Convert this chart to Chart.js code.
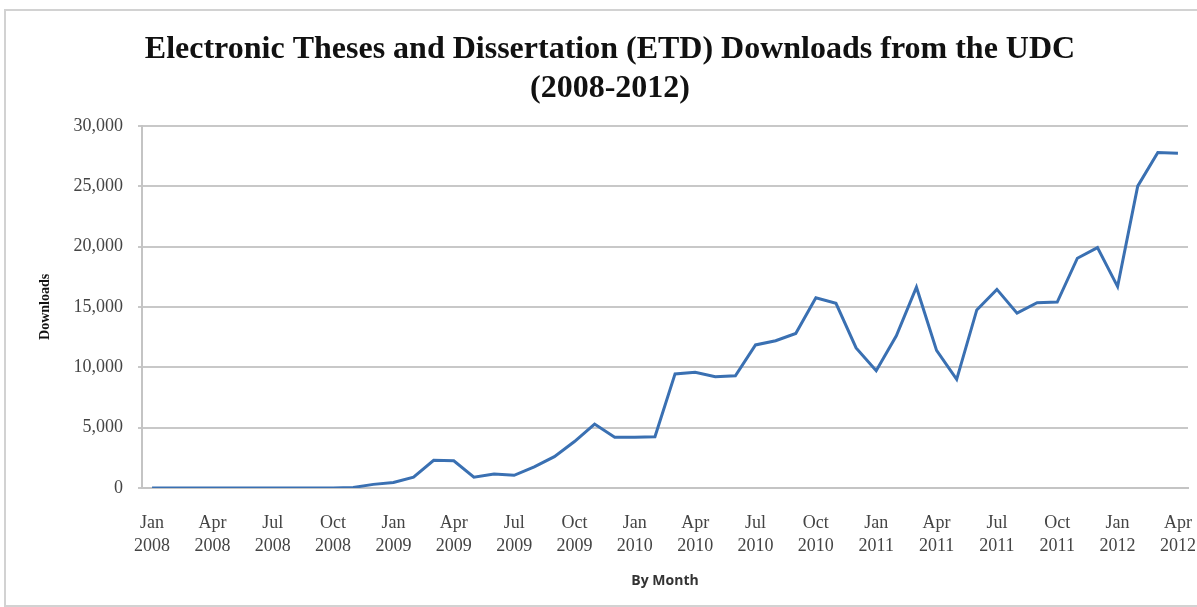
<!DOCTYPE html>
<html>
<head>
    <title>ETD Downloads from the UDC</title>
    <script src="https://cdn.jsdelivr.net/npm/chart.js"></script>
    <style>
        html, body {
            margin: 0;
            padding: 0;
            background: #ffffff;
        }
        #wrap {
            position: relative;
            width: 1197px;
            height: 607px;
        }
        #frame {
            position: absolute;
            left: 4px;
            top: 9px;
            width: 1200px;
            height: 594px;
            border: 2px solid #d2d2d2;
            pointer-events: none;
        }
    </style>
</head>
<body>
<div id="wrap">
    <canvas id="etdChart" width="1197" height="607"></canvas>
    <div id="frame"></div>
</div>

<script>
    // month labels, Jan 2008 .. Apr 2012
    const monthNames = ['Jan', 'Feb', 'Mar', 'Apr', 'May', 'Jun', 'Jul', 'Aug', 'Sep', 'Oct', 'Nov', 'Dec'];
    const years = [2008, 2009, 2010, 2011, 2012];
    const monthLabels = [];
    years.forEach(function (y) {
        monthNames.forEach(function (m) {
            if (monthLabels.length < 52) monthLabels.push(m + ' ' + y);
        });
    });

    // downloads per month
    const downloads = [
        0, 0, 0, 0, 0, 0, 0, 0, 0, 0, 50, 300,
        450, 900, 2300, 2250, 900, 1150, 1050, 1750, 2600, 3850, 5300, 4200,
        4200, 4250, 9450, 9580, 9220, 9300, 11850, 12200, 12800, 15750, 15300, 11600,
        9720, 12600, 16630, 11400, 9000, 14750, 16450, 14480, 15350, 15400, 19030, 19910,
        16680, 25000, 27780, 27730
    ];

    const yTicks = [0, 5000, 10000, 15000, 20000, 25000, 30000];

    // title sits a bit right of the canvas centre in the original
    const shiftTitle = {
        id: 'shiftTitle',
        afterLayout: function (chart) {
            chart.titleBlock.left += 16;
            chart.titleBlock.right += 16;
        }
    };

    let ctx = document.getElementById('etdChart').getContext('2d');

    let chart = new Chart(ctx, {
        type: 'line',
        data: {
            labels: monthLabels,
            datasets: [{
                label: 'Downloads',
                data: downloads,
                borderColor: '#3a70b2',
                backgroundColor: '#3a70b2',
                borderWidth: 3,
                pointRadius: 0,
                tension: 0,
                fill: false
            }]
        },
        plugins: [shiftTitle],
        options: {
            responsive: false,
            animation: false,
            layout: {
                padding: {top: 0, right: 9, bottom: 0, left: 0}
            },
            plugins: {
                legend: {display: false},
                tooltip: {enabled: false},
                title: {
                    display: true,
                    text: ['Electronic Theses and Dissertation (ETD) Downloads from the UDC', '(2008-2012)'],
                    color: '#111',
                    font: {family: 'Liberation Serif', size: 32, weight: 'bold', lineHeight: 1.2},
                    padding: {top: 31, bottom: 18}
                }
            },
            scales: {
                x: {
                    offset: true,
                    afterFit: function (scale) {
                        scale.height = 119;
                        scale.paddingLeft = 0;
                        scale.paddingRight = 0;
                    },
                    grid: {display: false, drawTicks: false},
                    border: {display: true, color: '#c4c4c4', width: 2},
                    ticks: {
                        autoSkip: false,
                        maxRotation: 0,
                        padding: 24,
                        color: '#444',
                        font: {family: 'Liberation Serif', size: 18, lineHeight: 1.28},
                        callback: function (value, index) {
                            if (index % 3 !== 0) return '';
                            return monthLabels[index].split(' ');
                        }
                    },
                    title: {
                        display: true,
                        text: 'By Month',
                        color: '#333',
                        font: {family: 'Open Sans', size: 14, weight: 'bold', lineHeight: 1.2},
                        padding: {top: 0, bottom: 18}
                    }
                },
                y: {
                    min: 0,
                    max: 30000,
                    afterFit: function (scale) { scale.width = 142; },
                    afterBuildTicks: function (scale) {
                        scale.ticks = yTicks.map(function (v) { return {value: v}; });
                    },
                    grid: {
                        color: '#c8c8c8',
                        lineWidth: 2,
                        drawTicks: true,
                        tickLength: 4
                    },
                    border: {display: true, color: '#c4c4c4', width: 2},
                    ticks: {
                        padding: 15,
                        color: '#444',
                        font: {family: 'Liberation Serif', size: 18},
                        callback: function (value) {
                            return value.toLocaleString('en-US');
                        }
                    },
                    title: {
                        display: true,
                        text: 'Downloads',
                        color: '#111',
                        font: {family: 'Liberation Serif', size: 14, weight: 'bold', lineHeight: 1.2},
                        padding: {top: 37, bottom: 0}
                    }
                }
            }
        }
    });
</script>
</body>
</html>
